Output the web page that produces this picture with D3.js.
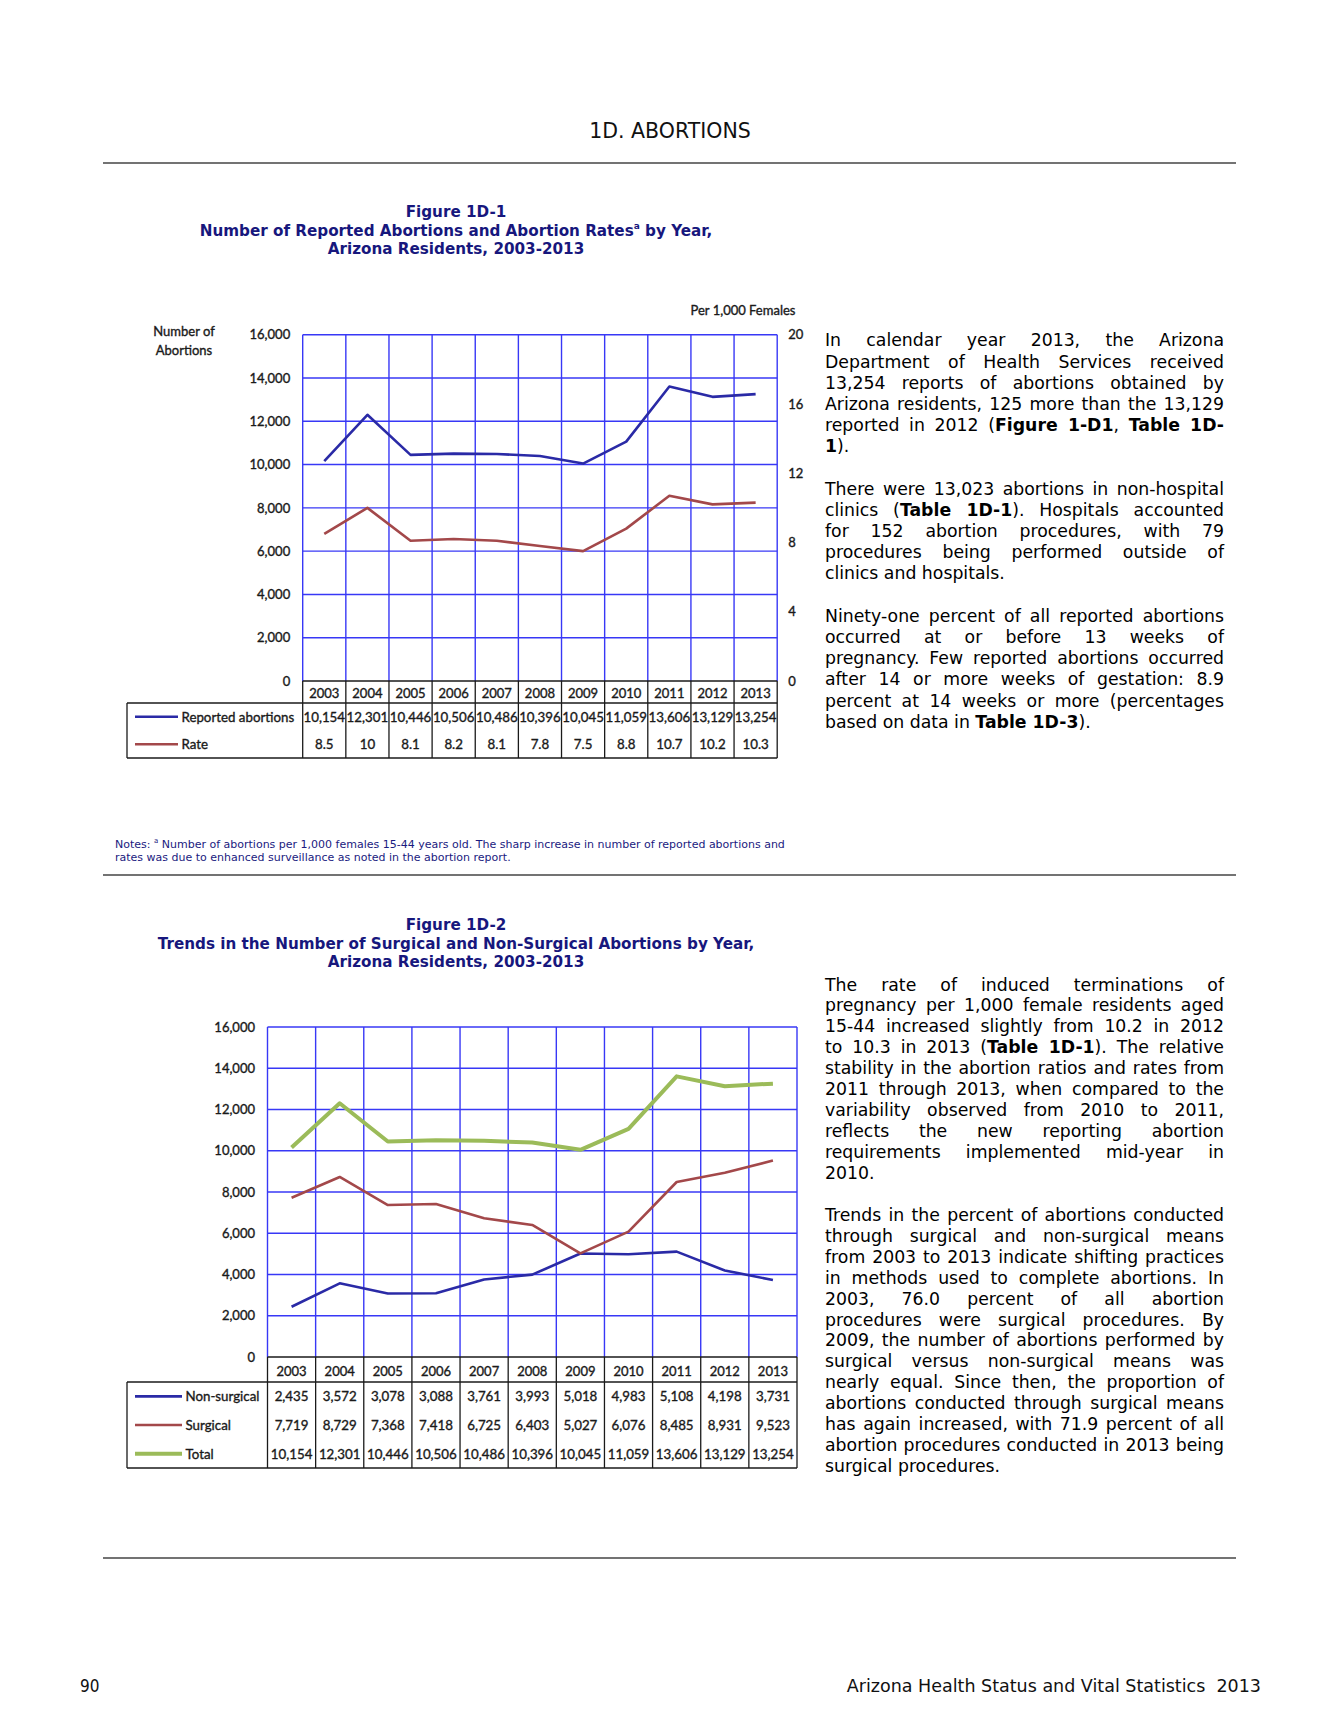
<!DOCTYPE html>
<html>
<head>
<meta charset="utf-8">
<script src="https://cdn.jsdelivr.net/npm/d3@7"></script>
<style>
  html, body { margin: 0; padding: 0; background: #ffffff; }
  body { width: 1338px; height: 1731px; position: relative; overflow: hidden; }
  svg { position: absolute; left: 0; top: 0; }
  .para { position: absolute; left: 825px; width: 399px; font-family: "DejaVu Sans", Verdana, sans-serif; font-size: 17.3px; color: #000; }
  .para div { white-space: nowrap; text-align: justify; text-align-last: justify; }
  .para div.last { text-align-last: left; }
  .ct { paint-order: stroke; stroke: #1a1a1a; stroke-width: 0.35px; }
</style>
</head>
<body>
<script>
// ---------- DATA ----------
const years = ["2003","2004","2005","2006","2007","2008","2009","2010","2011","2012","2013"];
const reported = [10154,12301,10446,10506,10486,10396,10045,11059,13606,13129,13254];
const rate = [8.5,10,8.1,8.2,8.1,7.8,7.5,8.8,10.7,10.2,10.3];
const nonSurgical = [2435,3572,3078,3088,3761,3993,5018,4983,5108,4198,3731];
const surgical = [7719,8729,7368,7418,6725,6403,5027,6076,8485,8931,9523];
const total = [10154,12301,10446,10506,10486,10396,10045,11059,13606,13129,13254];
const countTicks = [0,2000,4000,6000,8000,10000,12000,14000,16000];
const rateTicks = [0,4,8,12,16,20];

// ---------- TEXT ----------
const para1 = [
  ["In calendar year 2013, the Arizona"],
  ["Department of Health Services received"],
  ["13,254 reports of abortions obtained by"],
  ["Arizona residents, 125 more than the 13,129"],
  ["reported in 2012 (<b>Figure 1-D1</b>, <b>Table 1D-</b>"],
  ["<b>1</b>).", "last"],
  ["", "blank"],
  ["There were 13,023 abortions in non-hospital"],
  ["clinics (<b>Table 1D-1</b>). Hospitals accounted"],
  ["for 152 abortion procedures, with 79"],
  ["procedures being performed outside of"],
  ["clinics and hospitals.", "last"],
  ["", "blank"],
  ["Ninety-one percent of all reported abortions"],
  ["occurred at or before 13 weeks of"],
  ["pregnancy. Few reported abortions occurred"],
  ["after 14 or more weeks of gestation: 8.9"],
  ["percent at 14 weeks or more (percentages"],
  ["based on data in <b>Table 1D-3</b>).", "last"]
];
const para2 = [
  ["The rate of induced terminations of"],
  ["pregnancy per 1,000 female residents aged"],
  ["15-44 increased slightly from 10.2 in 2012"],
  ["to 10.3 in 2013 (<b>Table 1D-1</b>). The relative"],
  ["stability in the abortion ratios and rates from"],
  ["2011 through 2013, when compared to the"],
  ["variability observed from 2010 to 2011,"],
  ["reflects the new reporting abortion"],
  ["requirements implemented mid-year in"],
  ["2010.", "last"],
  ["", "blank"],
  ["Trends in the percent of abortions conducted"],
  ["through surgical and non-surgical means"],
  ["from 2003 to 2013 indicate shifting practices"],
  ["in methods used to complete abortions. In"],
  ["2003, 76.0 percent of all abortion"],
  ["procedures were surgical procedures. By"],
  ["2009, the number of abortions performed by"],
  ["surgical versus non-surgical means was"],
  ["nearly equal. Since then, the proportion of"],
  ["abortions conducted through surgical means"],
  ["has again increased, with 71.9 percent of all"],
  ["abortion procedures conducted in 2013 being"],
  ["surgical procedures.", "last"]
];

function addPara(lines, top, lh) {
  const d = d3.select("body").append("div").attr("class", "para")
    .style("top", top + "px").style("line-height", lh + "px");
  lines.forEach(([t, cls]) => {
    d.append("div").attr("class", cls || null).style("height", lh + "px").html(t || "&nbsp;");
  });
}
addPara(para1, 341 - 10.6, 21.2);
addPara(para2, 985 - 10.5, 20.95);

// ---------- SVG ----------
const W = 1338, H = 1731;
const svg = d3.select("body").append("svg").attr("width", W).attr("height", H);

const navy = "#17177d";
const chartFont = "Lato, 'Liberation Sans Narrow', sans-serif";
const gridColor = "#3838f6";
const tableColor = "#1a1a1a";
const txtFont = "'DejaVu Sans', Verdana, sans-serif";

// header
svg.append("text").attr("x", 670).attr("y", 131).attr("text-anchor", "middle").attr("dominant-baseline", "central")
  .attr("font-family", txtFont).attr("font-size", 20.5).attr("fill", "#111")
  .text("1D. ABORTIONS");

// rules
[163, 875, 1558].forEach(y => {
  svg.append("line").attr("x1", 103).attr("x2", 1236).attr("y1", y).attr("y2", y)
    .attr("stroke", "#444").attr("stroke-width", 1.6);
});

// titles
function title(lines, x, y0, lh) {
  const t = svg.append("text").attr("x", x).attr("text-anchor", "middle")
    .attr("font-family", txtFont).attr("font-weight", "bold")
    .attr("font-size", 15.2).attr("fill", navy);
  lines.forEach((ln, i) => {
    const ts = t.append("tspan").attr("x", x).attr("y", y0 + i * lh).attr("dominant-baseline", "central");
    if (Array.isArray(ln)) {
      ts.append("tspan").text(ln[0]);
      ts.append("tspan").attr("font-size", 9).attr("dy", -5).text(ln[1]);
      ts.append("tspan").attr("dy", 5).text(ln[2]);
    } else ts.text(ln);
  });
}
title(["Figure 1D-1", ["Number of Reported Abortions and Abortion Rates", "a", " by Year,"], "Arizona Residents, 2003-2013"], 456, 212, 18.5);
title(["Figure 1D-2", "Trends in the Number of Surgical and Non-Surgical Abortions by Year,", "Arizona Residents, 2003-2013"], 456, 925, 18.5);

// notes
const notes = svg.append("text").attr("font-family", txtFont)
  .attr("font-size", 11).attr("fill", "#1a1a80");
const n1 = notes.append("tspan").attr("x", 115).attr("y", 844).attr("dominant-baseline", "central");
n1.append("tspan").text("Notes: ");
n1.append("tspan").attr("font-size", 7).attr("dy", -3).text("a");
n1.append("tspan").attr("dy", 3).text(" Number of abortions per 1,000 females 15-44 years old. The sharp increase in number of reported abortions and");
notes.append("tspan").attr("x", 115).attr("y", 857).attr("dominant-baseline", "central")
  .text("rates was due to enhanced surveillance as noted in the abortion report.");

// footer
svg.append("text").attr("x", 80).attr("y", 1686).attr("dominant-baseline", "central")
  .attr("font-family", "'DejaVu Sans Condensed', 'DejaVu Sans', sans-serif").attr("font-size", 17).attr("fill", "#111").text("90");
svg.append("text").attr("x", 1261).attr("y", 1686).attr("text-anchor", "end").attr("dominant-baseline", "central")
  .attr("font-family", txtFont).attr("font-size", 17.5).attr("fill", "#111")
  .attr("xml:space", "preserve").text("Arizona Health Status and Vital Statistics  2013");

// ---------- CHART FUNCTION ----------
function drawChart(cfg) {
  const g = svg.append("g");
  const x = d3.scaleBand().domain(years).range([cfg.left, cfg.right]).padding(0);
  const y = d3.scaleLinear().domain([0, 16000]).range([cfg.bottom, cfg.top]);
  const yR = d3.scaleLinear().domain([0, 20]).range([cfg.bottom, cfg.top]);

  // horizontal grid
  g.append("g").selectAll("line").data(countTicks.filter(d => d > 0)).join("line")
    .attr("x1", cfg.left).attr("x2", cfg.right).attr("y1", d => y(d)).attr("y2", d => y(d))
    .attr("stroke", gridColor).attr("stroke-width", 1.4);
  // vertical grid
  const bounds = years.map(d => x(d)).concat([cfg.right]);
  g.append("g").selectAll("line").data(bounds).join("line")
    .attr("x1", d => d).attr("x2", d => d).attr("y1", cfg.top).attr("y2", cfg.bottom)
    .attr("stroke", gridColor).attr("stroke-width", 1.4);

  // left axis
  const la = g.append("g").attr("transform", `translate(${cfg.left},0)`)
    .call(d3.axisLeft(y).tickValues(countTicks).tickSize(0).tickPadding(cfg.leftPad).tickFormat(d3.format(",")));
  la.select(".domain").remove();
  la.selectAll("text").attr("class", "ct").attr("font-family", chartFont).attr("font-size", 13).attr("fill", "#1a1a1a");

  if (cfg.rightAxis) {
    const ra = g.append("g").attr("transform", `translate(${cfg.right},0)`)
      .call(d3.axisRight(yR).tickValues(rateTicks).tickSize(0).tickPadding(11));
    ra.select(".domain").remove();
    ra.selectAll("text").attr("class", "ct").attr("font-family", chartFont).attr("font-size", 13).attr("fill", "#1a1a1a");
  }

  // series lines
  cfg.series.forEach(s => {
    const sc = s.axis === "right" ? yR : y;
    const line = d3.line().x((d, i) => x(years[i]) + x.bandwidth() / 2).y(d => sc(d));
    g.append("path").datum(s.values).attr("d", line).attr("fill", "none")
      .attr("stroke", s.color).attr("stroke-width", s.width).attr("stroke-linejoin", "round");
  });

  // table
  const t = g.append("g");
  const yb = cfg.yearBottom;
  const rows = cfg.series.length;
  const tBottom = yb + rows * cfg.rowH;
  t.append("line").attr("x1", cfg.left).attr("x2", cfg.right).attr("y1", cfg.bottom).attr("y2", cfg.bottom)
    .attr("stroke", tableColor).attr("stroke-width", 1.3);
  t.append("line").attr("x1", cfg.tableLeft).attr("x2", cfg.right).attr("y1", yb).attr("y2", yb)
    .attr("stroke", tableColor).attr("stroke-width", 1.3);
  t.append("line").attr("x1", cfg.tableLeft).attr("x2", cfg.right).attr("y1", tBottom).attr("y2", tBottom)
    .attr("stroke", tableColor).attr("stroke-width", 1.3);
  t.append("line").attr("x1", cfg.tableLeft).attr("x2", cfg.tableLeft).attr("y1", yb).attr("y2", tBottom)
    .attr("stroke", tableColor).attr("stroke-width", 1.3);
  t.selectAll(".vsep").data(bounds).join("line")
    .attr("x1", d => d).attr("x2", d => d).attr("y1", cfg.bottom).attr("y2", tBottom)
    .attr("stroke", tableColor).attr("stroke-width", 1.3);
  t.selectAll(".yl").data(years).join("text")
    .attr("class", "ct")
    .attr("x", d => x(d) + x.bandwidth() / 2).attr("y", (cfg.bottom + yb) / 2 + 1)
    .attr("text-anchor", "middle").attr("dominant-baseline", "central")
    .attr("font-family", chartFont).attr("font-size", 13).attr("fill", "#1a1a1a").text(d => d);
  cfg.series.forEach((s, r) => {
    const cy = yb + (r + 0.5) * cfg.rowH;
    t.append("line").attr("x1", 135).attr("x2", cfg.legX2).attr("y1", cy).attr("y2", cy)
      .attr("stroke", s.color).attr("stroke-width", s.legW);
    t.append("text").attr("class", "ct").attr("x", cfg.legX2 + 3.5).attr("y", cy).attr("dominant-baseline", "central")
      .attr("font-family", chartFont).attr("font-size", 13.3).attr("fill", "#1a1a1a").text(s.name);
    t.selectAll(null).data(s.values).join("text")
      .attr("class", "ct")
      .attr("x", (d, i) => x(years[i]) + x.bandwidth() / 2).attr("y", cy)
      .attr("text-anchor", "middle").attr("dominant-baseline", "central")
      .attr("font-family", chartFont).attr("font-size", 13.3).attr("fill", "#1a1a1a")
      .text(d => s.fmt(d));
  });
}

// Chart 1 axis titles
svg.append("text").attr("class", "ct").attr("text-anchor", "middle").attr("font-family", chartFont).attr("font-size", 13).attr("fill", "#1a1a1a")
  .selectAll("tspan").data(["Number of", "Abortions"]).join("tspan")
  .attr("x", 184).attr("y", (d, i) => 331 + i * 18.5).attr("dominant-baseline", "central").text(d => d);
svg.append("text").attr("class", "ct").attr("x", 743).attr("y", 310).attr("text-anchor", "middle").attr("dominant-baseline", "central")
  .attr("font-family", chartFont).attr("font-size", 13).attr("fill", "#1a1a1a").text("Per 1,000 Females");

drawChart({
  left: 302.7, right: 777.2, top: 334.7, bottom: 681, leftPad: 12.5,
  tableLeft: 127, yearBottom: 703, rowH: 27.5, legX2: 178, rightAxis: true,
  series: [
    { name: "Reported abortions", values: reported, color: "#2a2aa6", width: 2.6, legW: 2.6, axis: "left", fmt: d3.format(",") },
    { name: "Rate", values: rate, color: "#a3484a", width: 2.6, legW: 2.6, axis: "right", fmt: d => String(d) }
  ]
});

drawChart({
  left: 267.5, right: 797, top: 1027, bottom: 1357, leftPad: 12.5,
  tableLeft: 127, yearBottom: 1382, rowH: 28.67, legX2: 182, rightAxis: false,
  series: [
    { name: "Non-surgical", values: nonSurgical, color: "#2a2aa6", width: 2.6, legW: 2.6, axis: "left", fmt: d3.format(",") },
    { name: "Surgical", values: surgical, color: "#a3484a", width: 2.6, legW: 2.6, axis: "left", fmt: d3.format(",") },
    { name: "Total", values: total, color: "#9bbb59", width: 4, legW: 4, axis: "left", fmt: d3.format(",") }
  ]
});
</script>
</body>
</html>
